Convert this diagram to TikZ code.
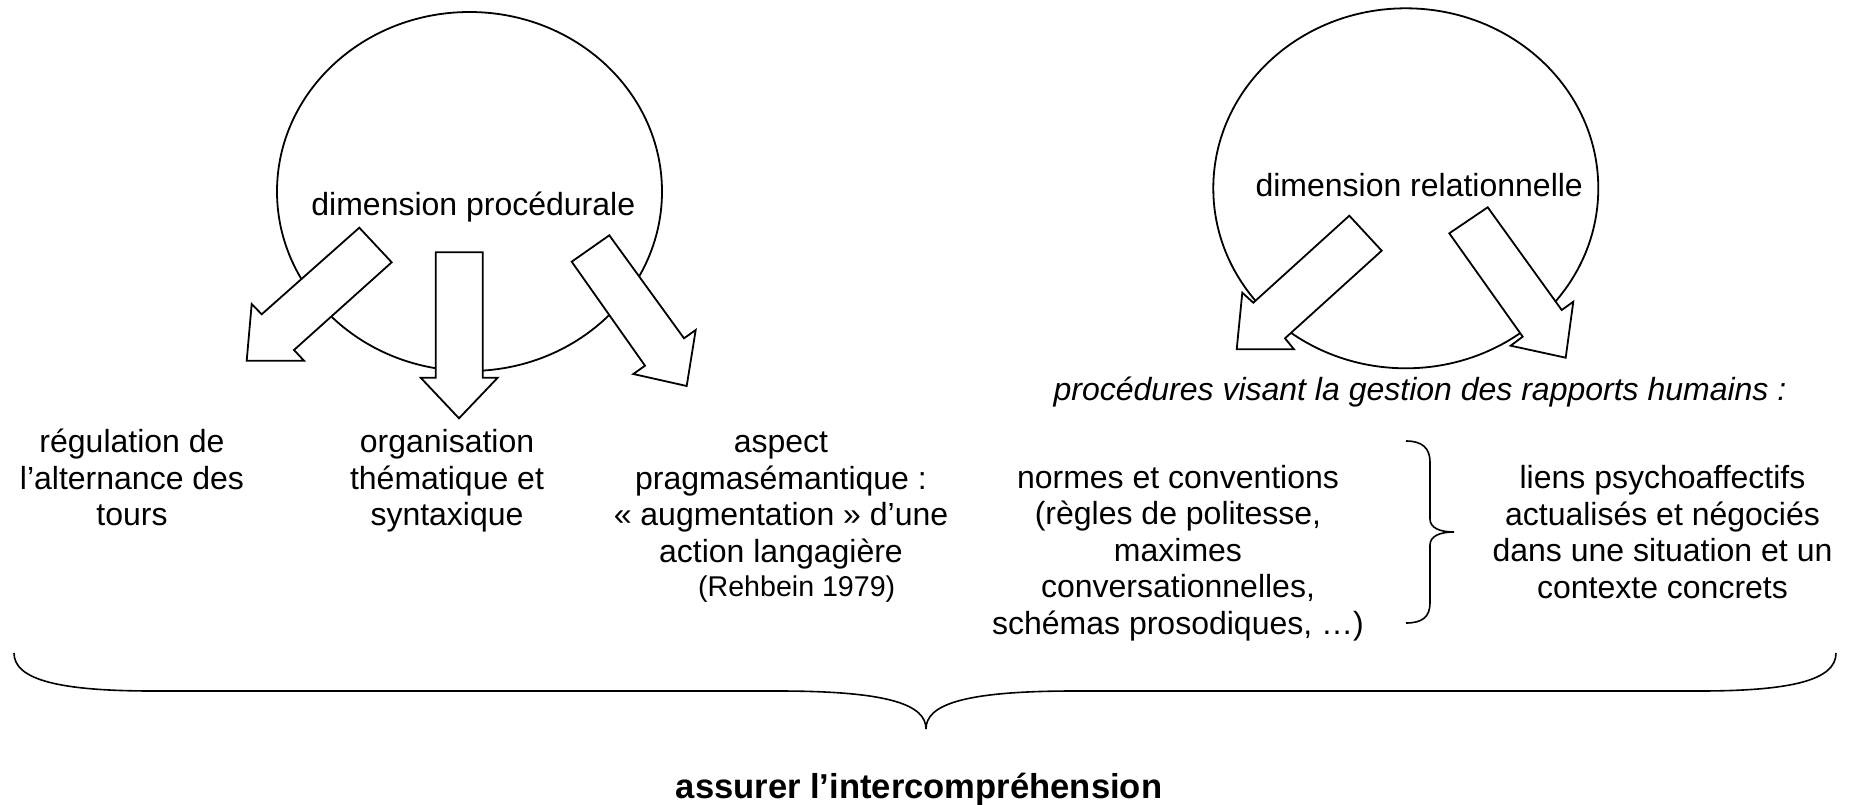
\documentclass[tikz,border=0pt]{standalone}
\usepackage{fontspec}
\setmainfont{Liberation Sans}
\usetikzlibrary{shapes.geometric}
\begin{document}
\begin{tikzpicture}[x=0.5pt,y=-0.5pt,
  dimcircle/.style={draw, ellipse, inner sep=0pt, line width=0.9pt,
    minimum width=192.5pt, minimum height=179.5pt},
  blockarrow/.style={draw, fill=white, line width=0.9pt, line join=miter},
  bracepath/.style={draw, line width=0.8pt},
  txt/.style={align=center, inner sep=0pt, anchor=base,
    font=\fontsize{16}{18.2}\selectfont},
  smalltxt/.style={align=center, inner sep=0pt, anchor=base,
    font=\fontsize{14.3}{17}\selectfont},
  boldtxt/.style={align=center, inner sep=0pt, anchor=base,
    font=\fontsize{17.3}{20}\selectfont\bfseries}]
\useasboundingbox (0,0) rectangle (1849,804);

% circles
\node[dimcircle] (circP) at (469.5,191.5) {};
\node[dimcircle, minimum height=180pt] (circR) at (1405.8,188.3) {};

% block arrows (left circle)
\path[blockarrow] (359.3,227.7) -- (391.7,262.3) -- (294,350) -- (304,360.7)
  -- (246.7,360.7) -- (251.7,304) -- (261.7,314.3) -- cycle;
\path[blockarrow] (435.7,252.3) -- (482.7,252.3) -- (482.7,377.7) -- (497.7,377.7)
  -- (459,418.3) -- (420.7,377.7) -- (435.7,377.7) -- cycle;
\path[blockarrow] (571.7,261.7) -- (609.3,235.3) -- (684,338.3) -- (695.7,330)
  -- (686.7,386) -- (633.3,374) -- (645,365.7) -- cycle;
% block arrows (right circle)
\path[blockarrow] (1349.3,215.7) -- (1381.7,250.7) -- (1285,338.3) -- (1294,349.3)
  -- (1236.7,349.3) -- (1242.3,292.7) -- (1253.3,302.7) -- cycle;
\path[blockarrow] (1449.3,233.3) -- (1487.7,207.3) -- (1561.7,310) -- (1573.3,301.7)
  -- (1565.7,357.7) -- (1510.7,345.7) -- (1522.7,336.7) -- cycle;

% circle labels
\node[txt] (dimP) at (473.3,215) {dimension procédurale};
\node[txt] (dimR) at (1419.2,196.7) {dimension relationnelle};

% texts (anchor base = baseline of the last line)
\node[txt] (proc) at (1420,400) {\itshape procédures visant la gestion des rapports humains :};
\node[txt] (regul) at (132,525.5) {régulation de\\l’alternance des\\tours};
\node[txt] (organ) at (447,525.5) {organisation\\thématique et\\syntaxique};
\node[txt] (aspect) at (781,562) {aspect\\pragmasémantique :\\« augmentation » d’une\\action langagière};
\node[smalltxt] (rehb) at (796.7,596) {(Rehbein 1979)};
\node[txt] (normes) at (1178,634) {normes et conventions\\(règles de politesse,\\maximes\\conversationnelles,\\schémas prosodiques, …)};
\node[txt] (liens) at (1662.5,598) {liens psychoaffectifs\\actualisés et négociés\\dans une situation et un\\contexte concrets};
\node[boldtxt] (assurer) at (919,798) {assurer l’intercompréhension};

% small brace
\path[bracepath] (1406,441) .. controls (1422,441) and (1430,448) .. (1430,462)
  -- (1430,519) .. controls (1430,528) and (1440,532) .. (1454,532)
  .. controls (1440,532) and (1430,536) .. (1430,545)
  -- (1430,603) .. controls (1430,617) and (1422,623) .. (1406,623);

% large brace
\path[bracepath] (14,653) .. controls (14,680) and (60,691) .. (153,691)
  -- (778,691) .. controls (890,691) and (926,705) .. (926,729)
  .. controls (926,705) and (962,691) .. (1074,691)
  -- (1699,691) .. controls (1792,691) and (1836,680) .. (1836,653);
\end{tikzpicture}
\end{document}
